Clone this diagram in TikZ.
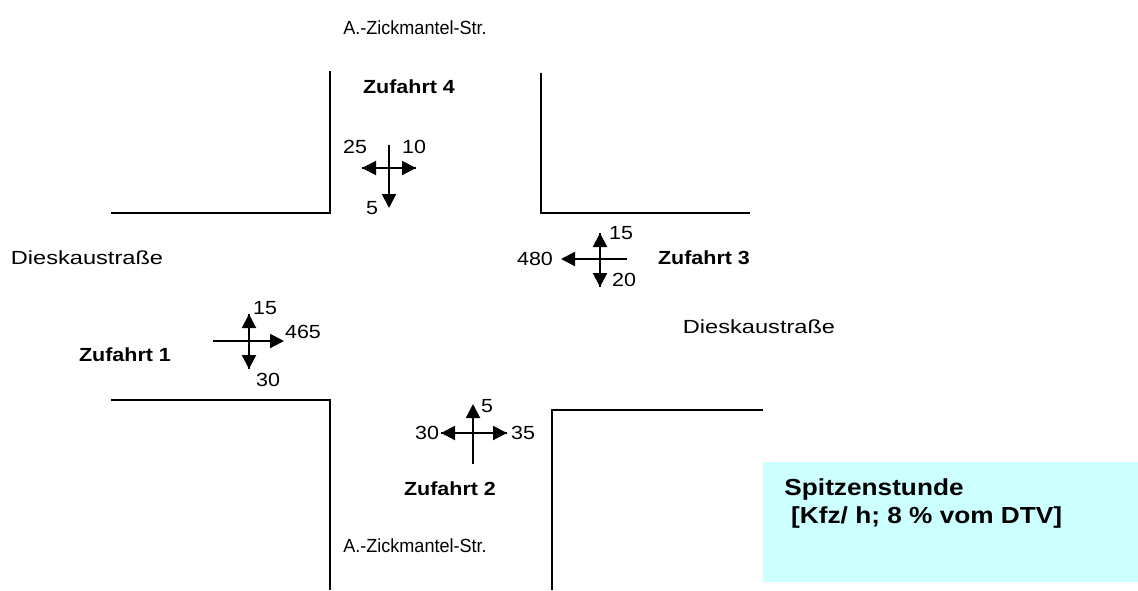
\documentclass[tikz,border=0pt]{standalone}
\usepackage{fontspec}
\setmainfont{Liberation Sans}
\usetikzlibrary{arrows.meta}
\definecolor{boxcyan}{HTML}{CCFFFF}
\tikzset{
  curb/.style={line width=1pt},
  flow/.style={line width=1pt},
  tip/.style={-{Triangle[length=7pt,width=7pt]}},
  lab/.style={font=\fontsize{9.5}{11}\selectfont,xscale=1.13,inner sep=0},
  zuf/.style={lab,font=\fontsize{9.5}{11}\selectfont\bfseries},
  street/.style={lab,xscale=0.84},
  road/.style={lab,xscale=1.1},
  info/.style={font=\fontsize{11.6}{14}\selectfont\bfseries,xscale=1.13,inner sep=0,align=left},
}
\begin{document}
\begin{tikzpicture}[x=0.5pt,y=-0.5pt]
  \useasboundingbox (0,0) rectangle (1138,590);
  % street edges
  \draw[curb] (330,71) -- (330,213) -- (111,213);
  \draw[curb] (541,73) -- (541,213) -- (750,213);
  \draw[curb] (111,400) -- (330,400) -- (330,590);
  \draw[curb] (763,410) -- (552,410) -- (552,590);
  % street names
  \node[street] (strN) at (415,28) {A.-Zickmantel-Str.};
  \node[street] (strS) at (415,546) {A.-Zickmantel-Str.};
  \node[road] (strW) at (87,258) {Dieskaustraße};
  \node[road] (strE) at (759,327) {Dieskaustraße};
  % Zufahrt 4
  \coordinate (z4n) at (389,145); \coordinate (z4s) at (389,208);
  \coordinate (z4w) at (362,168); \coordinate (z4e) at (416,168);
  \draw[flow,tip] (z4n) -- (z4s);
  \draw[flow,tip] (z4w) -- (z4e);
  \draw[flow,tip] (z4e) -- (z4w);
  \node[zuf] (zuf4) at (409,87) {Zufahrt 4};
  \node[lab] (z4l) at (355,147) {25};
  \node[lab] (z4r) at (414,147) {10};
  \node[lab] (z4d) at (372,208) {5};
  % Zufahrt 3
  \coordinate (z3n) at (600,233); \coordinate (z3s) at (600,287);
  \coordinate (z3w) at (561,259); \coordinate (z3e) at (627,259);
  \draw[flow,tip] (z3n) -- (z3s);
  \draw[flow,tip] (z3s) -- (z3n);
  \draw[flow,tip] (z3e) -- (z3w);
  \node[zuf] (zuf3) at (704,258) {Zufahrt 3};
  \node[lab] (z3u) at (621,233) {15};
  \node[lab] (z3l) at (535,259) {480};
  \node[lab] (z3d) at (624,280) {20};
  % Zufahrt 1
  \coordinate (z1n) at (249,314); \coordinate (z1s) at (249,369);
  \coordinate (z1w) at (213,341); \coordinate (z1e) at (284,341);
  \draw[flow,tip] (z1n) -- (z1s);
  \draw[flow,tip] (z1s) -- (z1n);
  \draw[flow,tip] (z1w) -- (z1e);
  \node[zuf] (zuf1) at (125,355) {Zufahrt 1};
  \node[lab] (z1u) at (265,308) {15};
  \node[lab] (z1r) at (303,332) {465};
  \node[lab] (z1d) at (268,380) {30};
  % Zufahrt 2
  \coordinate (z2n) at (473,404); \coordinate (z2s) at (473,464);
  \coordinate (z2w) at (441,433); \coordinate (z2e) at (507,433);
  \draw[flow,tip] (z2s) -- (z2n);
  \draw[flow,tip] (z2w) -- (z2e);
  \draw[flow,tip] (z2e) -- (z2w);
  \node[zuf] (zuf2) at (450,489) {Zufahrt 2};
  \node[lab] (z2u) at (487,406) {5};
  \node[lab] (z2l) at (427,433) {30};
  \node[lab] (z2r) at (523,433) {35};
  % legend
  \fill[boxcyan] (763,462) rectangle (1138,582);
  \node[info,anchor=base west] (legend) at (784,523) {Spitzenstunde\\\hspace{3pt}[Kfz/ h; 8 \% vom DTV]};
\end{tikzpicture}
\end{document}
